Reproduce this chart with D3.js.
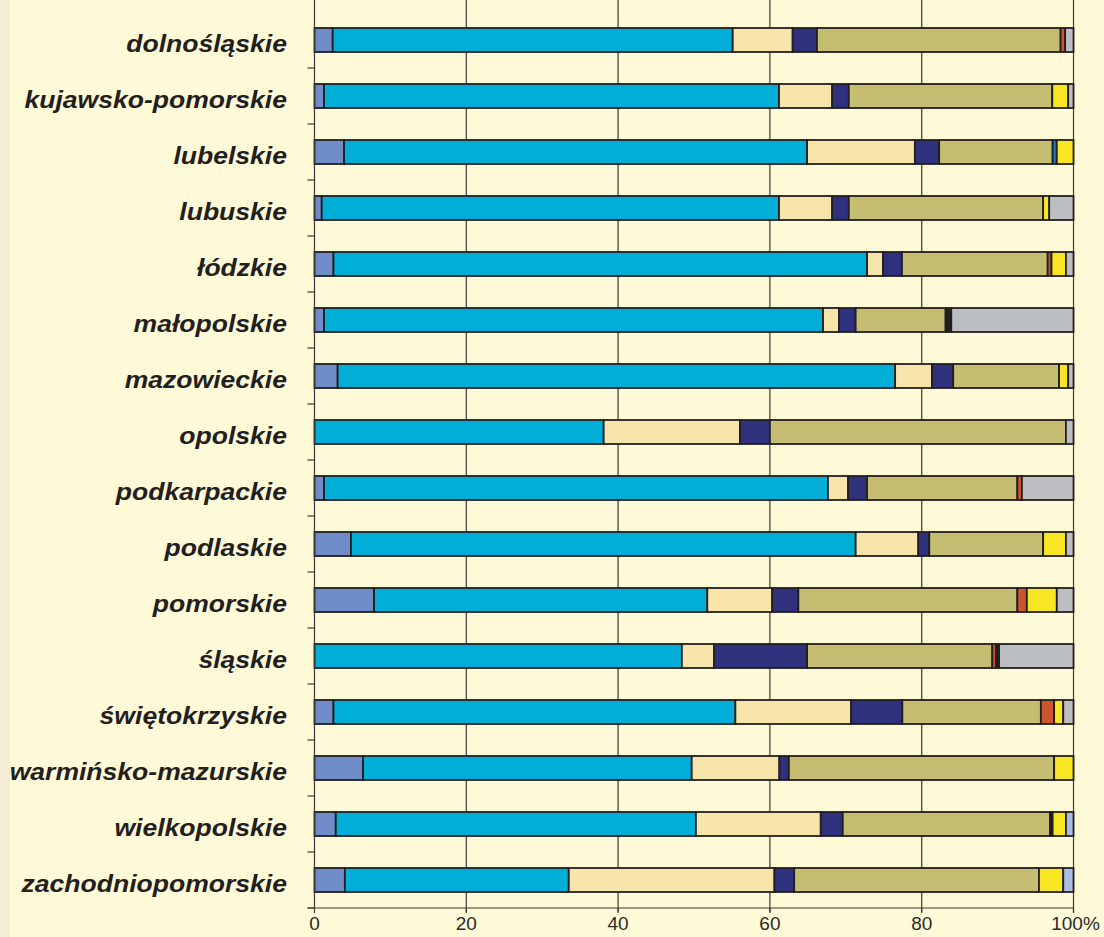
<!DOCTYPE html>
<html><head><meta charset="utf-8">
<script src="https://cdn.jsdelivr.net/npm/d3@7"></script>
<style>
html,body{margin:0;padding:0;background:#FEF9D6;}
svg{display:block;}
</style></head>
<body>
<div id="chart"></div>
<script>
const categories = ["dolnośląskie","kujawsko-pomorskie","lubelskie","lubuskie","łódzkie","małopolskie","mazowieckie","opolskie","podkarpackie","podlaskie","pomorskie","śląskie","świętokrzyskie","warmińsko-mazurskie","wielkopolskie","zachodniopomorskie"];
const s1 = [2.4,1.25,3.9,0.95,2.5,1.25,3.05,0,1.25,4.8,7.85,0,2.5,6.4,2.8,4.0];
const s2 = [52.7,59.95,61.0,60.25,70.3,65.75,73.45,38.1,66.4,66.5,43.9,48.4,52.95,43.3,47.45,29.5];
const s3 = [7.9,7.0,14.2,7.0,2.1,2.1,4.85,17.95,2.65,8.25,8.55,4.25,15.25,11.55,16.45,27.1];
const s4 = [3.2,2.2,3.2,2.2,2.5,2.2,2.8,3.95,2.5,1.45,3.45,12.25,6.75,1.25,2.9,2.6];
const s5 = [32.1,26.8,14.95,25.6,19.2,11.85,13.95,39.0,19.8,15.0,28.85,24.4,18.25,34.95,27.3,32.25];
const s6 = [0.6,0,0,0,0.5,0,0,0,0.6,0,1.25,0.5,1.75,0,0,0];
const s7 = [0,0,0,0,0,0.75,0,0,0,0,0,0.4,0,0,0.35,0];
const s8 = [0,0,0.55,0,0,0,0,0,0,0,0,0,0,0,0,0];
const s9 = [0,2.1,2.2,0.8,1.9,0,1.2,0,0,3.0,3.95,0,1.2,2.55,1.75,3.2];
const s10 = [1.1,0.7,0,3.2,1.0,16.1,0.7,1.0,6.8,1.0,2.2,9.8,1.35,0,0,0];
const s11 = [0,0,0,0,0,0,0,0,0,0,0,0,0,0,1.0,1.35];
const xTicks = [0,20,40,60,80,100];
const xTickLabels = ["0","20","40","60","80","100%"];

const series = [s1,s2,s3,s4,s5,s6,s7,s8,s9,s10,s11];
const colors = ["#6F8BC8","#00AED8","#F6E4AA","#2F317C","#C4BD72","#CC5530","#231F20","#1B75BC","#F8E523","#BDBEC1","#AABDE3"];

const W = 1104, H = 937;
const svg = d3.select("#chart").append("svg").attr("width", W).attr("height", H);
svg.append("rect").attr("width", W).attr("height", H).attr("fill", "#FEF9D6");
svg.append("rect").attr("x",0).attr("y",0).attr("width",10).attr("height",H).attr("fill","#F7EDD6");

const x = d3.scaleLinear().domain([0,100]).range([314.5,1073.5]);
const y = d3.scaleBand().domain(categories).range([12,908]).paddingInner(0.5714).paddingOuter(0.2857);

// gridlines
svg.append("g").selectAll("line").data(xTicks.slice(1)).join("line")
  .attr("x1", d=>x(d)).attr("x2", d=>x(d)).attr("y1", 0).attr("y2", 912)
  .attr("stroke", "#3c3a36").attr("stroke-width", 1.2);

const rows = categories.map((c,i)=>{
  let acc = 0;
  const segs = [];
  series.forEach((s,k)=>{
    const v = s[i];
    if (v > 0) segs.push({cat:c, k, x0:acc, x1:acc+v});
    acc += v;
  });
  return segs;
}).flat();

const bh = 24;
svg.append("g").selectAll("rect").data(rows).join("rect")
  .attr("x", d=>x(d.x0)).attr("width", d=>x(d.x1)-x(d.x0))
  .attr("y", d=>y(d.cat) + y.bandwidth()/2 - bh/2).attr("height", bh)
  .attr("fill", d=>colors[d.k]).attr("stroke", "#231F20").attr("stroke-width", 1.8);

// y axis
const yAxis = svg.append("g").attr("transform","translate(314.5,0)");
yAxis.append("line").attr("x1",0).attr("x2",0).attr("y1",0).attr("y2",908).attr("stroke","#3c3a36").attr("stroke-width",1.2);
const bounds = categories.map(c => y(c) - y.step()*y.paddingInner()/2);
bounds.push(908);
yAxis.selectAll("line.t").data(bounds.slice(1)).join("line").attr("class","t")
  .attr("x1",-7).attr("x2",0).attr("y1",d=>d).attr("y2",d=>d).attr("stroke","#3c3a36").attr("stroke-width",1.2);

// x axis
const xAxis = svg.append("g").attr("transform","translate(0,908)");
xAxis.append("line").attr("x1",x(0)-7).attr("x2",x(100)).attr("y1",0).attr("y2",0).attr("stroke","#3c3a36").attr("stroke-width",1.2);
xAxis.selectAll("line.t").data(xTicks).join("line").attr("class","t")
  .attr("x1",d=>x(d)).attr("x2",d=>x(d)).attr("y1",0).attr("y2",5).attr("stroke","#3c3a36").attr("stroke-width",1.2);
xAxis.selectAll("text").data(xTicks).join("text")
  .attr("x",(d,i)=>x(d) + (i===xTicks.length-1 ? 2 : 0)).attr("y",22)
  .attr("text-anchor","middle")
  .attr("font-family","'Liberation Sans', Arial, sans-serif").attr("font-size",19).attr("fill","#2a2a2a")
  .text((d,i)=>xTickLabels[i]);

// category labels
svg.append("g").selectAll("text").data(categories).join("text")
  .attr("transform", d=>`translate(287,${y(d)+y.bandwidth()/2 + 11.5}) scale(1.13,1)`)
  .attr("text-anchor","end")
  .attr("font-family","'Liberation Sans', Arial, sans-serif").attr("font-size",23.5)
  .attr("font-weight","bold").attr("font-style","italic").attr("fill","#231F20")
  .text(d=>d);
</script>
</body></html>
